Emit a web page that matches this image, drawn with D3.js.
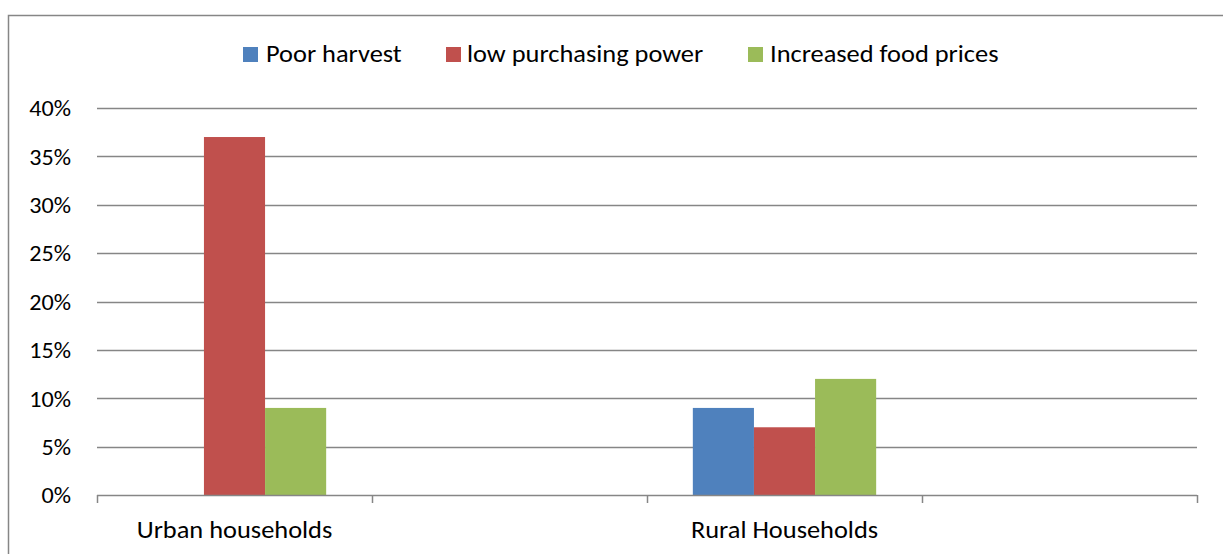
<!DOCTYPE html>
<html><head><meta charset="utf-8">
<script src="https://cdn.jsdelivr.net/npm/d3@7"></script>
<style>
html,body{margin:0;padding:0;background:#fff;}
svg{display:block;}
text{font-family:Carlito,Lato,"Open Sans",sans-serif;fill:#000;}
</style></head>
<body>
<svg id="chart" width="1223" height="554"></svg>
<script>
const categories = ["Urban households", "", "Rural Households", ""];
const seriesNames = ["Poor harvest", "low purchasing power", "Increased food prices"];
const poorHarvest = [0, null, 9, null];
const lowPurchasingPower = [37, null, 7, null];
const increasedFoodPrices = [9, null, 12, null];
const yTicks = [0, 5, 10, 15, 20, 25, 30, 35, 40];
const colors = ["#4F81BD", "#C0504D", "#9BBB59"];

const series = [poorHarvest, lowPurchasingPower, increasedFoodPrices];
const svg = d3.select("#chart");
const W = 1223, H = 554;
const FS = 24, SX = 1.1;

// outer border
svg.append("rect").attr("x", 8.5).attr("y", 15.5).attr("width", W + 10).attr("height", H + 10)
  .attr("fill", "none").attr("stroke", "#868686").attr("stroke-width", 1.5);

const pLeft = 97, pRight = 1197, pTop = 108, pBottom = 495;
const idx = categories.map((d, i) => i);
const x = d3.scaleBand().domain(idx).range([pLeft, pRight]).paddingInner(0).paddingOuter(0);
const inner = d3.scaleBand().domain(d3.range(series.length)).range([0, x.bandwidth()]).paddingInner(0).paddingOuter(0.75);
const y = d3.scaleLinear().domain([0, 40]).range([pBottom, pTop]);

// gridlines
svg.append("g").selectAll("line").data(yTicks.filter(t => t > 0)).join("line")
  .attr("x1", pLeft).attr("x2", pRight)
  .attr("y1", d => Math.round(y(d)) + 0.5).attr("y2", d => Math.round(y(d)) + 0.5)
  .attr("stroke", "#868686").attr("stroke-width", 1.3);

// bars
const g = svg.append("g");
series.forEach((vals, si) => {
  g.selectAll(null).data(vals.map((v, i) => ({v, i})).filter(d => d.v != null && d.v > 0)).join("rect")
    .attr("x", d => x(d.i) + inner(si))
    .attr("width", inner.bandwidth())
    .attr("y", d => y(d.v))
    .attr("height", d => y(0) - y(d.v))
    .attr("fill", colors[si]);
});

// y axis labels
const ya = svg.append("g");
ya.selectAll("g").data(yTicks).join("g")
  .attr("transform", d => `translate(71,${y(d)}) scale(1.05,1)`)
  .append("text").attr("text-anchor", "end").attr("dy", "0.36em")
  .style("font-size", "23px").text(d => d + "%");

// x axis
const xAxisLine = svg.append("g");
xAxisLine.append("line").attr("x1", pLeft).attr("x2", pRight).attr("y1", pBottom + 0.5).attr("y2", pBottom + 0.5)
  .attr("stroke", "#868686").attr("stroke-width", 1.5);
const tickPos = idx.map(i => x(i)).concat([x(idx[idx.length - 1]) + x.bandwidth()]);
xAxisLine.selectAll(".tk").data(tickPos).join("line")
  .attr("x1", d => Math.round(d) + 0.5).attr("x2", d => Math.round(d) + 0.5)
  .attr("y1", pBottom).attr("y2", pBottom + 8)
  .attr("stroke", "#868686").attr("stroke-width", 1.5);
xAxisLine.selectAll("g.lbl").data(idx).join("g").attr("class", "lbl")
  .attr("transform", i => `translate(${x(i) + x.bandwidth() / 2},538) scale(${SX},1)`)
  .append("text").attr("text-anchor", "middle").style("font-size", FS + "px")
  .text(i => categories[i]);

// legend
const legendItems = [{x: 243, t: 266}, {x: 446, t: 467}, {x: 748, t: 770}];
const lg = svg.append("g");
seriesNames.forEach((name, i) => {
  lg.append("rect").attr("x", legendItems[i].x).attr("y", 47).attr("width", 15).attr("height", 15).attr("fill", colors[i]);
  lg.append("g").attr("transform", `translate(${legendItems[i].t},62) scale(${SX},1)`)
    .append("text").style("font-size", FS + "px").text(name);
});
</script>
</body></html>
